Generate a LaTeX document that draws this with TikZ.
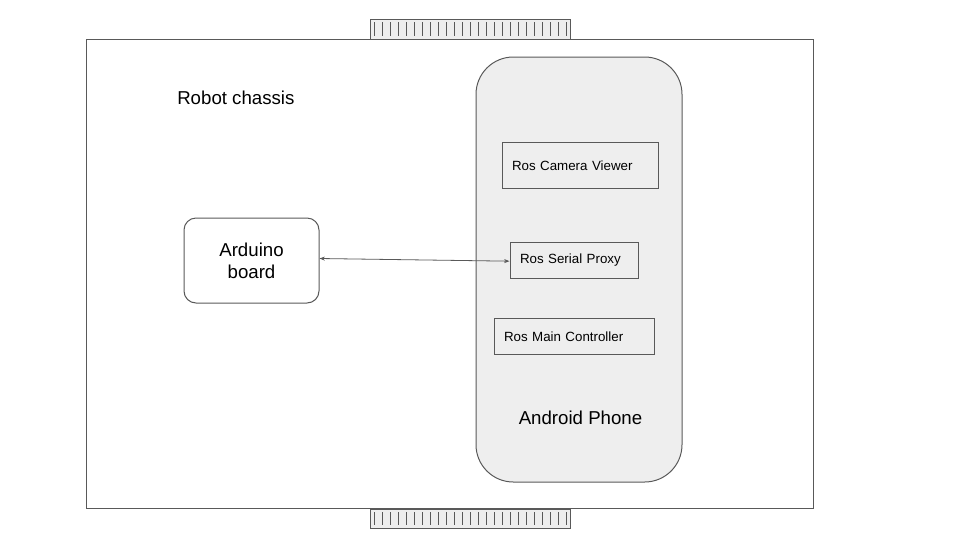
\documentclass[tikz,border=0pt]{standalone}
\usepackage{fontspec}
\setmainfont{Liberation Sans}
\usetikzlibrary{arrows.meta}
\definecolor{edge}{HTML}{595959}
\definecolor{phonefill}{HTML}{EEEEEE}

\begin{document}
\begin{tikzpicture}[x=0.75pt, y=-0.75pt,
	every node/.style={font=\fontsize{10}{12}\selectfont},
	rosbox/.style={draw=edge, line width=0.75pt, align=left, inner xsep=7.5pt, minimum height=27pt},
	bigtext/.style={font=\fontsize{14}{16.5}\selectfont},
	track/.style={draw=edge, fill=phonefill, line width=0.75pt}]
	\useasboundingbox (0,0) rectangle (960,540);

	\draw[track] (370,19) rectangle (570,39);
	\draw[track] (370,509) rectangle (570,528);
	\foreach \x in {374,382,...,566} {
		\draw[edge, line width=0.75pt] (\x,22) -- (\x,36);
		\draw[edge, line width=0.75pt] (\x,512) -- (\x,525);
	}
	\draw[edge, line width=0.75pt] (86,39) rectangle (813,508);
	\node[bigtext, anchor=west, inner xsep=0pt] (chassis) at (177,98) {Robot chassis};

	\node[draw=edge, fill=phonefill, line width=0.75pt, rounded corners=28pt,
		minimum width=154.5pt, minimum height=318.75pt] (phone) at (579,269.5) {};
	\node[bigtext] (android) at (580.5,418) {Android Phone};

	\node[rosbox, text width=102pt, minimum height=34.5pt] (camera) at (580,165.5) {Ros Camera Viewer};
	\node[rosbox, text width=81pt] (proxy) at (574,260.5) {Ros Serial Proxy};
	\node[rosbox, text width=105pt] (main) at (574,336.5) {Ros Main Controller};

	\node[draw=edge, line width=0.75pt, rounded corners=9pt, bigtext, align=center,
		minimum width=101.25pt, minimum height=63.75pt] (arduino) at (251.5,260.5) {Arduino\\board};

	\draw[edge, line width=0.6pt, {Stealth[length=4pt,width=3pt]}-{Stealth[length=4pt,width=3pt]}]
		([yshift=1.5pt]arduino.east) -- ([yshift=-0.5pt]proxy.west);
\end{tikzpicture}
\end{document}
